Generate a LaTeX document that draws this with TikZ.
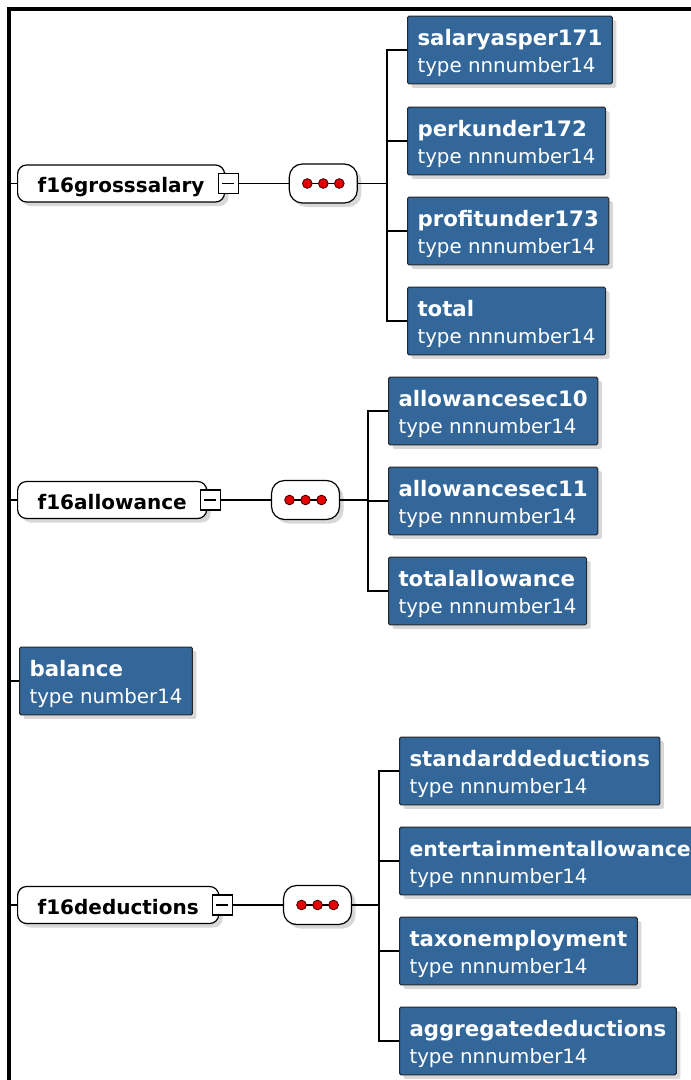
\documentclass[tikz,border=0pt]{standalone}
\usepackage{fontspec}
\setmainfont{DejaVu Sans}
\usetikzlibrary{positioning,shadows}
\definecolor{kidblue}{RGB}{51,102,153}
\definecolor{dotred}{RGB}{230,0,0}
\tikzset{
  shade/.style={drop shadow={shadow xshift=4pt,shadow yshift=-4pt,fill=black!30,opacity=.5}},
  elem/.style={draw,fill=white,line width=1.2pt,rounded corners=9pt,anchor=west,
    inner xsep=20pt,inner ysep=9.5pt,text height=18pt,text depth=0pt,
    font=\fontsize{20}{24}\selectfont\bfseries,shade},
  minus/.style={draw,fill=white,line width=1.2pt,minimum size=20pt,inner sep=0pt},
  seq/.style={draw,fill=white,line width=1.2pt,rounded corners=13pt,
    minimum width=68pt,minimum height=39pt,inner sep=0pt,shade},
  kid/.style={draw=black!85,fill=kidblue,text=white,line width=1pt,rounded corners=1.5pt,
    anchor=west,inner xsep=10pt,inner ysep=3pt,font=\fontsize{19.8}{27}\selectfont,shade},
  link/.style={line width=1.2pt}
}
% blue child box: name on top, type below
\newcommand{\kidtext}[3][21.3]{\begin{tabular}{@{}l@{}}\rule{0pt}{26.7pt}\fontsize{#1}{27}\selectfont\bfseries #2\hspace{13pt}\\
  type #3\hspace{5pt}\end{tabular}}
\begin{document}
\begin{tikzpicture}[x=1pt,y=-1pt]
\useasboundingbox (0,0) rectangle (691,1080);
\coordinate (rail) at (9,9);
\draw[line width=3.5pt] (9,1080) -- (rail) -- (691,9);

% f16grosssalary
\node[elem] (gross) at (17,183.5) {f16grosssalary};
\node[minus] (gross-m) at ([xshift=3pt]gross.east) {};
\node[seq, right=50pt of gross-m] (gross-q) {};
\node[kid] (salary) at (407,50) {\kidtext{salaryasper171}{nnnumber14}};
\node[kid] (perk) at (407,141) {\kidtext{perkunder172}{nnnumber14}};
\node[kid] (profit) at (407,231) {\kidtext{profitunder173}{nnnumber14}};
\node[kid] (total) at (407,321) {\kidtext{total}{nnnumber14}};
\coordinate (gross-b) at ([xshift=-20pt]salary.west);
\draw[link] (gross-q.east) -- (gross-q.east -| gross-b);
\draw[link] (salary.west) -- (gross-b) -- (gross-b |- total.west) -- (total.west);
\draw[link] (perk.west) -- (perk.west -| gross-b);
\draw[link] (profit.west) -- (profit.west -| gross-b);

% f16allowance
\node[elem] (allow) at (17,500) {f16allowance};
\node[minus] (allow-m) at ([xshift=3pt]allow.east) {};
\node[seq, right=50pt of allow-m] (allow-q) {};
\node[kid] (sec10) at (388,411) {\kidtext{allowancesec10}{nnnumber14}};
\node[kid] (sec11) at (388,501) {\kidtext{allowancesec11}{nnnumber14}};
\node[kid] (totallow) at (388,591) {\kidtext{totalallowance}{nnnumber14}};
\coordinate (allow-b) at ([xshift=-20pt]sec10.west);
\draw[link] (allow-q.east) -- (allow-q.east -| allow-b);
\draw[link] (sec10.west) -- (allow-b) -- (allow-b |- totallow.west) -- (totallow.west);
\draw[link] (sec11.west) -- (sec11.west -| allow-b);

% balance
\node[kid] (balance) at (19,681) {\kidtext{balance}{number14}};

% f16deductions
\node[elem] (deduct) at (17,905) {f16deductions};
\node[minus] (deduct-m) at ([xshift=3pt]deduct.east) {};
\node[seq, right=50pt of deduct-m] (deduct-q) {};
\node[kid] (std) at (399,771) {\kidtext{standarddeductions}{nnnumber14}};
\node[kid] (enter) at (399,861) {\kidtext[20.4]{entertainmentallowance}{nnnumber14}};
\node[kid] (taxemp) at (399,951) {\kidtext{taxonemployment}{nnnumber14}};
\node[kid] (aggr) at (399,1041) {\kidtext{aggregatedeductions}{nnnumber14}};
\coordinate (deduct-b) at ([xshift=-20pt]std.west);
\draw[link] (deduct-q.east) -- (deduct-q.east -| deduct-b);
\draw[link] (std.west) -- (deduct-b) -- (deduct-b |- aggr.west) -- (aggr.west);
\draw[link] (enter.west) -- (enter.west -| deduct-b);
\draw[link] (taxemp.west) -- (taxemp.west -| deduct-b);

% ticks from the rail, minus signs, sequence dots
\foreach \n in {gross,allow,deduct,balance}
  \draw[link] (\n.west) -- (\n.west -| rail);
\foreach \g in {gross,allow,deduct} {
  \draw[link] (\g-m.east) -- (\g-q.west);
  \draw[line width=1.5pt] ([xshift=-6pt]\g-m.center) -- ([xshift=6pt]\g-m.center);
  \draw[line width=1.2pt] ([xshift=-21pt]\g-q.center) -- ([xshift=21pt]\g-q.center);
  \foreach \dx in {-16,0,16}
    \filldraw[fill=dotred,draw=black!70!red,line width=.9pt] ([xshift=\dx pt]\g-q.center) circle (4.8pt);
}
\end{tikzpicture}
\end{document}
